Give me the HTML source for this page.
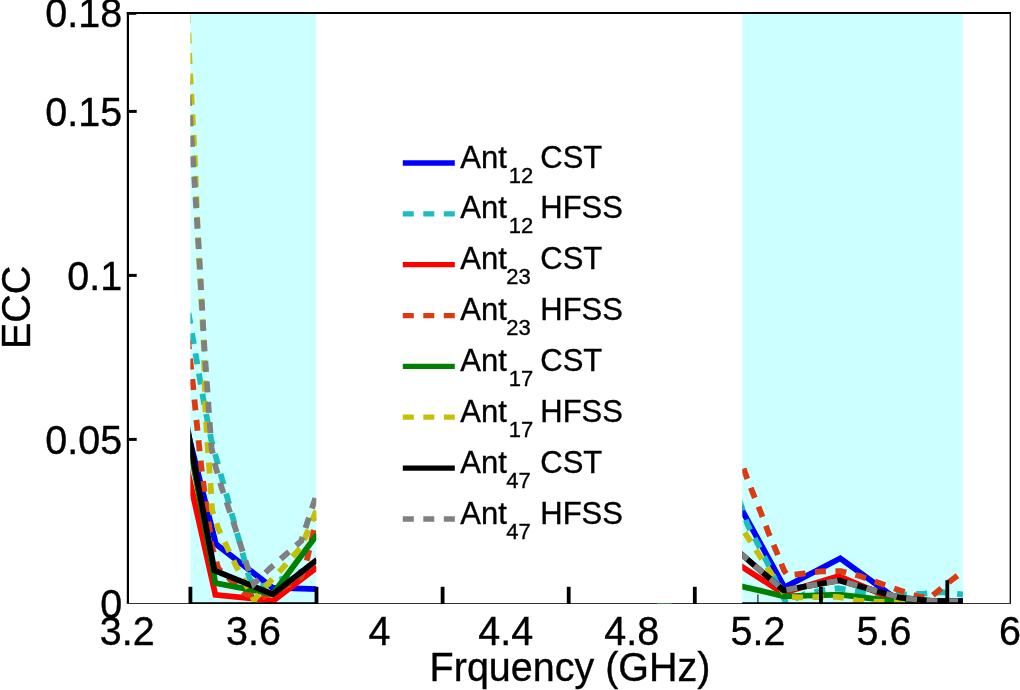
<!DOCTYPE html>
<html lang="en">
<head>
<meta charset="utf-8">
<title>ECC vs Frequency</title>
<style>
html,body{margin:0;padding:0;background:#ffffff;}
body{width:1020px;height:690px;overflow:hidden;}
svg{display:block;}
text{font-family:"Liberation Sans",sans-serif;fill:#000;stroke:#000;stroke-width:0.35px;}
.tick{font-size:39.5px;}
.leg{font-size:31px;}
.sub{font-size:22px;}
</style>
</head>
<body>
<svg width="1020" height="690" viewBox="0 0 1020 690">
<defs>
<clipPath id="c1"><rect x="190.4" y="13" width="125.9" height="590.9"/></clipPath>
<clipPath id="c2"><rect x="742.3" y="13" width="220.6" height="590.9"/></clipPath>
</defs>
<rect x="0" y="0" width="1020" height="690" fill="#ffffff"/>

<rect x="190.4" y="13" width="125.9" height="590.4" fill="#ccffff"/>
<rect x="742.3" y="13" width="220.6" height="590.4" fill="#ccffff"/>
<g stroke="#222" stroke-width="1.2">
<line x1="253.5" y1="594.5" x2="253.5" y2="603.4"/>
<line x1="757.9" y1="594.5" x2="757.9" y2="603.4"/>
</g>
<g fill="none" stroke-width="5.8" stroke-linejoin="miter" stroke-linecap="butt" clip-path="url(#c1)">
<polyline points="185.0,421.6 190.4,443.0 215.9,544.0 272.3,587.6 317.0,589.2" stroke="#0000ff"/>
<polyline points="187.0,304.0 193.2,340.0 203.8,402.0 211.4,440.6 217.0,461.0 228.1,500.4 238.5,538.2 249.3,578.0 256.0,586.0 263.0,586.0 279.0,580.0 297.7,573.0 317.0,566.0" stroke="#1abebe" stroke-dasharray="11 9.5" stroke-dashoffset="11.4"/>
<polyline points="185.0,459.1 190.4,483.5 215.4,594.8 273.6,600.6 317.0,567.3" stroke="#ff0000"/>
<polyline points="188.0,340.0 192.9,384.3 197.0,425.4 201.2,466.0 206.3,507.0 209.3,527.0 211.5,545.0 218.3,568.5 231.0,580.5 245.4,594.0 261.0,598.0 285.0,587.0 301.2,577.0 306.7,560.6 317.0,517.0" stroke="#dc3a10" stroke-dasharray="11 9.5" stroke-dashoffset="1.7"/>
<polyline points="185.0,419.8 190.4,449.0 215.4,583.0 272.8,594.0 317.0,534.6" stroke="#008000"/>
<polyline points="187.2,0.0 189.5,62.0 192.7,120.0 194.9,161.0 198.2,243.0 203.8,344.7 205.3,407.6 207.8,448.2 210.9,489.3 212.0,510.0 218.4,528.8 227.0,547.0 235.8,565.4 254.1,600.0 267.8,584.0 281.5,569.4 301.2,547.0 317.0,509.0" stroke="#c5c005" stroke-dasharray="11 9.5" stroke-dashoffset="8.4"/>
<polyline points="185.0,414.3 190.4,444.0 214.4,570.4 272.8,594.3 317.0,559.8" stroke="#000000"/>
<polyline points="185.5,50.0 188.8,100.0 193.1,161.0 198.5,243.0 204.2,344.7 208.5,406.0 210.0,427.0 211.6,448.0 215.4,466.0 221.5,487.2 234.7,526.3 247.0,565.4 253.8,584.0 269.3,569.0 301.2,541.0 317.0,493.0" stroke="#808080" stroke-dasharray="11 9.5" stroke-dashoffset="16.4"/>
</g>
<g fill="none" stroke-width="5.8" stroke-linejoin="miter" stroke-linecap="butt" clip-path="url(#c2)">
<polyline points="736.0,499.4 742.3,510.7 784.5,587.3 840.3,558.3 900.0,601.5 963.0,600.8" stroke="#0000ff"/>
<polyline points="738.0,496.0 741.0,505.0 747.5,524.6 757.3,543.0 766.5,561.0 786.0,602.8 805.0,594.0 825.0,589.8 838.0,588.3 861.5,592.0 880.0,594.0 903.0,594.5 924.0,593.6 942.4,592.2 963.0,594.5" stroke="#1abebe" stroke-dasharray="11 9.5" stroke-dashoffset="16.0"/>
<polyline points="736.0,563.0 742.3,567.0 782.8,593.0 838.7,576.2 900.0,602.0 963.0,602.3" stroke="#ff0000"/>
<polyline points="742.3,464.5 745.9,475.1 753.3,494.1 761.1,513.2 768.7,533.3 776.3,551.2 783.9,570.2 787.5,575.5 800.0,574.0 820.8,571.3 840.9,571.1 860.4,576.2 879.9,583.3 899.5,590.3 918.5,596.6 930.0,597.6 947.0,583.7 963.0,571.4" stroke="#dc3a10" stroke-dasharray="11 9.5" stroke-dashoffset="16.3"/>
<polyline points="736.0,585.0 742.3,586.5 784.0,596.3 840.0,594.7 900.0,602.0 963.0,602.5" stroke="#008000"/>
<polyline points="742.3,529.0 748.0,537.6 758.9,554.5 769.8,571.3 786.0,596.5 797.0,597.4 837.6,596.8 857.7,600.7 880.0,602.0 963.0,602.0" stroke="#c5c005" stroke-dasharray="11 9.5" stroke-dashoffset="16.1"/>
<polyline points="736.0,549.6 742.3,555.0 783.4,590.3 839.2,580.5 900.0,597.7 932.0,601.0 963.0,601.3" stroke="#000000"/>
<polyline points="736.0,549.6 742.3,555.0 783.4,590.3 839.2,580.5 900.0,597.7 932.0,601.0 963.0,601.3" stroke="#808080" stroke-dasharray="11 9.5" stroke-dashoffset="16.5"/>
</g>
<g stroke="#000" fill="none">
<line x1="127.9" y1="11.9" x2="127.9" y2="604" stroke-width="2.2"/>
<line x1="126.8" y1="13" x2="1010.8" y2="13" stroke-width="2.2"/>
<line x1="1010.3" y1="12" x2="1010.3" y2="604" stroke-width="1.3"/>
<line x1="127" y1="603.5" x2="1011" y2="603.5" stroke-width="1.1" stroke="#333"/>
<line x1="190.4" y1="603.2" x2="316.3" y2="603.2" stroke-width="1.7"/>
<line x1="742.3" y1="603.2" x2="962.9" y2="603.2" stroke-width="1.7"/>
<line x1="657" y1="603.4" x2="671.5" y2="603.4" stroke="#6fbf6f" stroke-width="1" stroke-opacity="0.6"/>
<line x1="190.4" y1="586.8" x2="190.4" y2="604" stroke-width="3.8"/>
<line x1="316.5" y1="586.8" x2="316.5" y2="604" stroke-width="3.8"/>
<line x1="442.6" y1="586.8" x2="442.6" y2="604" stroke-width="3.8"/>
<line x1="568.7" y1="586.8" x2="568.7" y2="604" stroke-width="3.8"/>
<line x1="694.8" y1="586.8" x2="694.8" y2="604" stroke-width="3.8"/>
<line x1="820.9" y1="586.8" x2="820.9" y2="604" stroke-width="3.8"/>
<line x1="947.3" y1="580.2" x2="947.3" y2="604" stroke-width="3.8"/>
<line x1="128" y1="439.4" x2="136.7" y2="439.4" stroke-width="3"/>
<line x1="128" y1="275.4" x2="136.7" y2="275.4" stroke-width="3"/>
<line x1="128" y1="111.4" x2="136.7" y2="111.4" stroke-width="3"/>
<line x1="128" y1="14.3" x2="136.3" y2="14.3" stroke-width="1"/>
</g>
<g class="tick" text-anchor="end">
<text transform="translate(122.2 617.8) scale(1 1.045)">0</text>
<text transform="translate(122.2 453.8) scale(1 1.045)">0.05</text>
<text transform="translate(122.2 289.8) scale(1 1.045)">0.1</text>
<text transform="translate(122.2 125.8) scale(1 1.045)">0.15</text>
<text transform="translate(122.2 27.4) scale(1 1.045)">0.18</text>
</g>
<g class="tick" text-anchor="middle">
<text transform="translate(127.3 645.3) scale(1 1.045)">3.2</text>
<text transform="translate(253.5 645.3) scale(1 1.045)">3.6</text>
<text transform="translate(379.6 645.3) scale(1 1.045)">4</text>
<text transform="translate(505.7 645.3) scale(1 1.045)">4.4</text>
<text transform="translate(631.8 645.3) scale(1 1.045)">4.8</text>
<text transform="translate(757.9 645.3) scale(1 1.045)">5.2</text>
<text transform="translate(884.0 645.3) scale(1 1.045)">5.6</text>
<text transform="translate(1010.1 645.3) scale(1 1.045)">6</text>
</g>
<text class="tick" text-anchor="middle" transform="translate(570 680.6) scale(1 1.045)">Frquency (GHz)</text>
<text class="tick" text-anchor="middle" transform="translate(30.4 307.3) rotate(-90) scale(1 1.045)">ECC</text>
<line x1="402.8" y1="163.0" x2="454.8" y2="163.0" stroke="#0000ff" stroke-width="5.3"/>
<text class="leg" transform="translate(0 167.6) scale(1 1.03)"><tspan x="460.3" y="0">Ant</tspan><tspan class="sub" x="508.7" y="14.56">12</tspan><tspan x="540.3" y="0">CST</tspan></text>
<line x1="402.8" y1="213.8" x2="454.8" y2="213.8" stroke="#1abebe" stroke-width="5.3" stroke-dasharray="11 9.5"/>
<text class="leg" transform="translate(0 218.4) scale(1 1.03)"><tspan x="460.3" y="0">Ant</tspan><tspan class="sub" x="508.7" y="14.56">12</tspan><tspan x="540.3" y="0">HFSS</tspan></text>
<line x1="402.8" y1="264.7" x2="454.8" y2="264.7" stroke="#ff0000" stroke-width="5.3"/>
<text class="leg" transform="translate(0 269.3) scale(1 1.03)"><tspan x="460.3" y="0">Ant</tspan><tspan class="sub" x="506.2" y="14.56">23</tspan><tspan x="540.3" y="0">CST</tspan></text>
<line x1="402.8" y1="315.6" x2="454.8" y2="315.6" stroke="#dc3a10" stroke-width="5.3" stroke-dasharray="11 9.5"/>
<text class="leg" transform="translate(0 320.2) scale(1 1.03)"><tspan x="460.3" y="0">Ant</tspan><tspan class="sub" x="506.2" y="14.56">23</tspan><tspan x="540.3" y="0">HFSS</tspan></text>
<line x1="402.8" y1="366.4" x2="454.8" y2="366.4" stroke="#008000" stroke-width="5.3"/>
<text class="leg" transform="translate(0 371.0) scale(1 1.03)"><tspan x="460.3" y="0">Ant</tspan><tspan class="sub" x="508.7" y="14.56">17</tspan><tspan x="540.3" y="0">CST</tspan></text>
<line x1="402.8" y1="417.2" x2="454.8" y2="417.2" stroke="#c5c005" stroke-width="5.3" stroke-dasharray="11 9.5"/>
<text class="leg" transform="translate(0 421.9) scale(1 1.03)"><tspan x="460.3" y="0">Ant</tspan><tspan class="sub" x="508.7" y="14.56">17</tspan><tspan x="540.3" y="0">HFSS</tspan></text>
<line x1="402.8" y1="468.1" x2="454.8" y2="468.1" stroke="#000000" stroke-width="5.3"/>
<text class="leg" transform="translate(0 472.7) scale(1 1.03)"><tspan x="460.3" y="0">Ant</tspan><tspan class="sub" x="506.2" y="14.56">47</tspan><tspan x="540.3" y="0">CST</tspan></text>
<line x1="402.8" y1="519.0" x2="454.8" y2="519.0" stroke="#808080" stroke-width="5.3" stroke-dasharray="11 9.5"/>
<text class="leg" transform="translate(0 523.6) scale(1 1.03)"><tspan x="460.3" y="0">Ant</tspan><tspan class="sub" x="506.2" y="14.56">47</tspan><tspan x="540.3" y="0">HFSS</tspan></text>
</svg>
</body>
</html>
